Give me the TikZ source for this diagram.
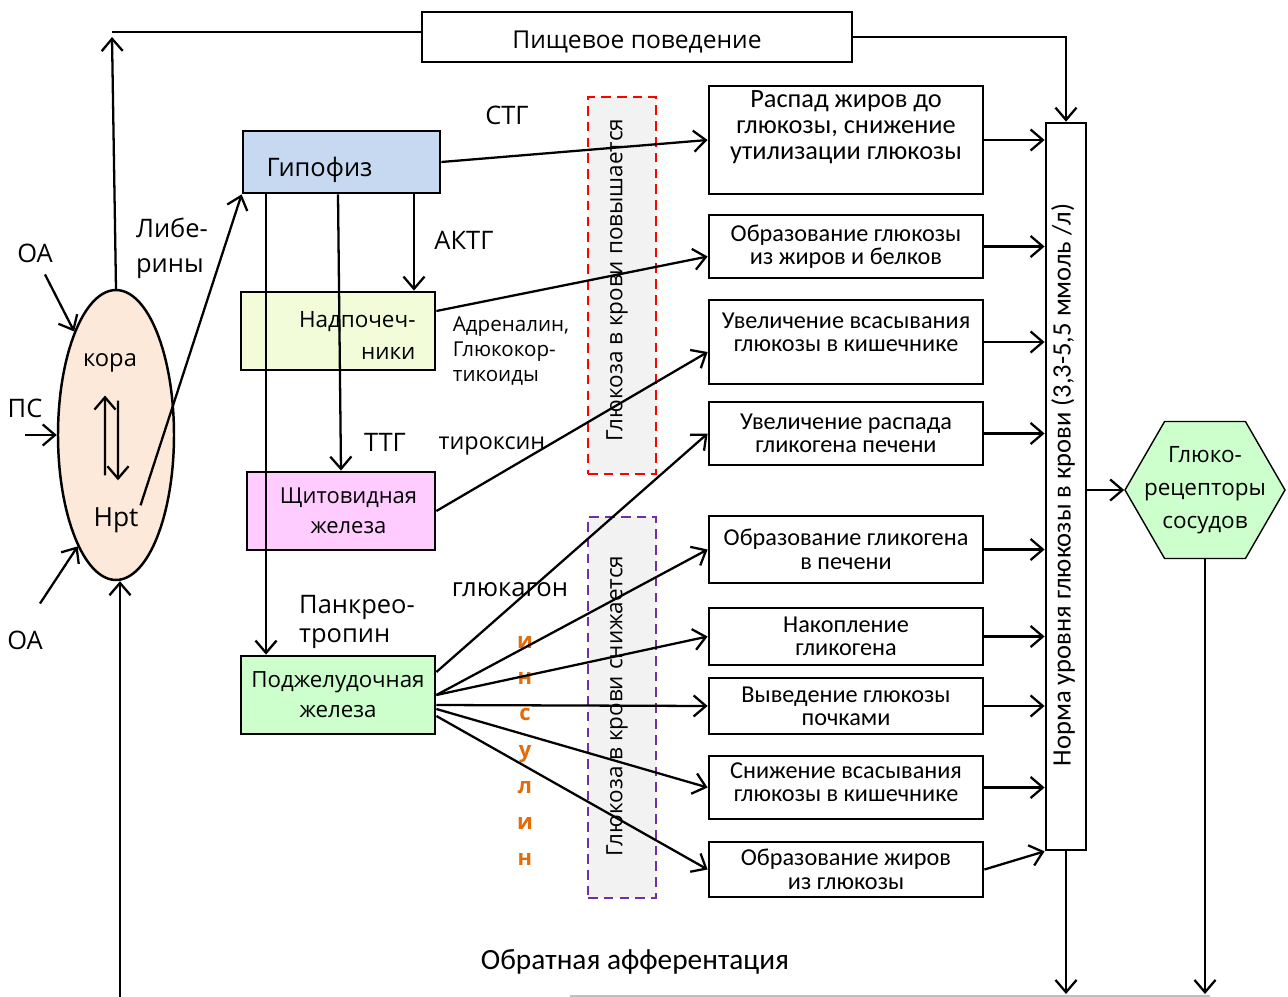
\documentclass[tikz,border=0pt]{standalone}
\usepackage{fontspec}
\setmainfont{Open Sans}
\newfontfamily\calfont{Carlito}
\usetikzlibrary{arrows.meta,shapes.geometric,shapes.symbols,calc}

\definecolor{korafill}{HTML}{FDE9D9}
\definecolor{gipfill}{HTML}{C6D9F1}
\definecolor{nadfill}{HTML}{F2FCD9}
\definecolor{shchfill}{HTML}{FFCCFF}
\definecolor{podfill}{HTML}{CCFFCC}
\definecolor{bandfill}{HTML}{F2F2F2}
\definecolor{bandpurple}{HTML}{7030A0}
\definecolor{insorange}{HTML}{E36C09}

\tikzset{
  box/.style={draw, line width=1.6pt, inner sep=2pt},
  rbox/.style={box, minimum width=5.48cm, align=center, font=\calfont\fontsize{13.8}{13.3}\selectfont},
  rtext/.style={align=center, inner sep=0pt, font=\calfont\fontsize{13.8}{13.3}\selectfont},
  band/.style={line width=1.4pt, dash pattern=on 5.5pt off 3.5pt, fill=bandfill, minimum width=1.36cm},
  arr/.style={line width=1.3pt, -{Straight Barb[length=7pt,width=12pt,line width=1.3pt]}},
  lbl/.style={font=\fontsize{14.5}{17}\selectfont, inner sep=1pt},
}

\begin{document}
\begin{tikzpicture}[x=0.02cm,y=-0.02cm]
	\useasboundingbox (0,0) rectangle (1288,997);

	% top
	\node (pish) [box, minimum width=8.6cm, minimum height=1cm, text height=0.6cm, text depth=0.12cm, font=\fontsize{14}{16}\selectfont] at (637,37) {Пищевое поведение};

	% cortex and hypothalamus
	\node (cortex) [ellipse, draw, line width=1.4pt, fill=korafill, minimum width=2.32cm, minimum height=5.8cm] at (116,435) {};
	\node (kora) [font=\fontsize{13.5}{15}\selectfont] at (110,363) {кора};
	\node (hpt) [lbl, font=\fontsize{15}{17}\selectfont] at (116,520) {Hpt};
	\node (oa1) [lbl] at (35,253) {ОА};
	\node (ps) [lbl] at (25,408) {ПС};
	\node (oa2) [lbl] at (25,640) {ОА};
	\node (lib) [lbl, align=left, font=\fontsize{14.5}{19.8}\selectfont] at (172,248) {Либе-\\рины};

	% glands
	\node (gip) [box, fill=gipfill, minimum width=3.94cm, minimum height=1.24cm, text width=3.0cm, text height=0.7cm, text depth=0.1cm, align=left, font=\fontsize{14.5}{17}\selectfont] at (341.5,162) {Гипофиз};
	\node (nad) [box, fill=nadfill, minimum width=3.88cm, minimum height=1.56cm, label={[name=nadt, yshift=-0.09cm, text width=3.1cm, align=right, inner sep=0pt, font=\fontsize{12.8}{18.5}\selectfont]center:{Надпочеч-\\ники}}] at (338,331) {};
	\node (shch) [box, fill=shchfill, minimum width=3.76cm, minimum height=1.56cm, align=center, font=\fontsize{12.5}{17}\selectfont] at (341,511) {\hspace*{0.3cm}Щитовидная\\\hspace*{0.3cm}железа};
	\node (pod) [box, fill=podfill, minimum width=3.88cm, minimum height=1.56cm, align=center, font=\fontsize{12.7}{17}\selectfont] at (338,695) {Поджелудочная\\железа};

	% hormones
	\node (stg) [lbl] at (507,115) {СТГ};
	\node (aktg) [lbl] at (464,240) {АКТГ};
	\node (ttg) [lbl] at (385,442) {ТТГ};
	\node (pankr) [lbl, align=left, font=\fontsize{14.5}{16.5}\selectfont] at (357,622) {Панкрео-\\тропин};
	\node (adr) [lbl, align=left, font=\fontsize{11.7}{14.2}\selectfont] at (511,351) {Адреналин,\\Глюкокор-\\тикоиды};
	\node (tir) [lbl, font=\fontsize{13.3}{15}\selectfont] at (492,446) {тироксин};
	\node (glk) [lbl, font=\fontsize{14.6}{16}\selectfont] at (510,590) {глюкагон};
	\node (ins) [font=\bfseries\fontsize{12.5}{20.6}\selectfont, text=insorange, align=center] at (525,751) {и\\н\\с\\у\\л\\и\\н};

	% bands
	\node (up) [band, draw=red, minimum height=7.54cm] at (622,285.5) {};
	\node (uptext) [rotate=90, font=\fontsize{12.8}{15}\selectfont] at (617,280) {Глюкоза в крови повышается};
	\node (down) [band, draw=bandpurple, minimum height=7.62cm] at (622,707.5) {};
	\node (downtext) [rotate=90, font=\fontsize{12.8}{15}\selectfont] at (617,706) {Глюкоза в крови снижается};

	% effects
	\node (r1) [rbox, minimum height=2.16cm, label={[name=r1t, rtext, font=\calfont\fontsize{15}{14.7}\selectfont, yshift=0.26cm]center:{Распад жиров до\\глюкозы, снижение\\утилизации глюкозы}}] at (846,140) {};
	\node (r2) [rbox, minimum height=1.26cm] at (846,246.5) {Образование глюкозы\\из жиров и белков};
	\node (r3) [rbox, minimum height=1.68cm, label={[name=r3t, rtext, yshift=0.2cm]center:{Увеличение всасывания\\глюкозы в кишечнике}}] at (846,342) {};
	\node (r4) [rbox, minimum height=1.26cm] at (846,433.5) {Увеличение распада\\гликогена печени};
	\node (r5) [rbox, minimum height=1.34cm] at (846,549.5) {Образование гликогена\\в печени};
	\node (r6) [rbox, minimum height=1.14cm] at (846,636.5) {Накопление\\гликогена};
	\node (r7) [rbox, minimum height=1.12cm] at (846,706) {Выведение глюкозы\\почками};
	\node (r8) [rbox, minimum height=1.26cm, label={[name=r8t, rtext, yshift=0.1cm]center:{Снижение всасывания\\глюкозы в кишечнике}}] at (846,787.5) {};
	\node (r9) [rbox, minimum height=1.10cm] at (846,869.5) {Образование жиров\\из глюкозы};

	% norm and receptors
	\node (norm) [box, minimum width=0.8cm, minimum height=14.54cm] at (1066,486.5) {};
	\node (normtext) [rotate=90, font=\calfont\fontsize{15.1}{16}\selectfont] at (1063,485) {Норма уровня глюкозы в крови (3,3-5,5 ммоль /л)};
	\node (hex) [signal, signal to=east and west, signal pointer angle=120, draw, line width=0.8pt, fill=podfill, minimum width=3.2cm, minimum height=2.74cm, inner sep=0pt] at (1205,490) {};
	\node (hextext) [align=center, font=\fontsize{12.8}{18.7}\selectfont] at (hex.center) {Глюко-\\рецепторы\\сосудов};
	\node (obr) [font=\calfont\fontsize{16.7}{18}\selectfont] at (635,962) {Обратная афферентация};

	\coordinate (tl) at (112,32);
	\coordinate (fbl) at (120,997);
	\coordinate (fbr) at (1066,994);

	% connectors on the left
	\draw[line width=1.3pt] (pish.west |- tl) -- (tl);
	\draw[arr] (cortex.north) -- ([yshift=-0.1cm]tl);
	\draw[arr] (pish.east) -| (norm.north);
	\draw[arr] ([xshift=0.2cm,yshift=-0.2cm]oa1.south) -- (cortex.112);
	\draw[arr] (ps.south |- cortex.west) -- (cortex.west);
	\draw[arr] ([xshift=0.3cm,yshift=0.5cm]oa2.north) -- (cortex.251);
	\draw[arr] (fbl) -- (fbl |- cortex.south);
	\draw[arr, shorten <=0.6cm, shorten >=0.34cm] ([xshift=-0.22cm]hpt.north) -- ([xshift=-0.1cm]kora.south);
	\draw[arr, shorten <=0.44cm, shorten >=0.5cm] ([xshift=0.16cm]kora.south) -- ([xshift=0.04cm]hpt.north);
	\draw[arr] (hpt.north east) -- (gip.south west);

	% hypophysis to glands
	\draw[arr] ([xshift=-1.51cm]gip.south) -- ([xshift=-1.51cm]gip.south |- pod.north);
	\draw[arr] ([xshift=-0.07cm]gip.south) -- (shch.north);
	\draw[arr] ([xshift=1.45cm]gip.south) -- ([xshift=1.45cm]gip.south |- nad.north);

	% hormones to effects
	\draw[arr] (gip.east) -- (r1.west);
	\draw[arr] ([yshift=0.4cm]nad.east) -- ([yshift=-0.2cm]r2.west);
	\draw[arr] (shch.east) -- ([yshift=-0.2cm]r3.west);
	\draw[arr] ([yshift=0.46cm]pod.east) -- (r4.west);
	\draw[arr] (pod.east) -- (r5.west);
	\draw[arr] (pod.east) -- (r6.west);
	\draw[arr] ([yshift=-0.2cm]pod.east) -- (r7.west);
	\draw[arr] ([yshift=-0.28cm]pod.east) -- (r8.west);
	\draw[arr] ([yshift=-0.42cm]pod.east) -- (r9.west);

	% effects to norm
	\foreach \r in {r1,r2,r3,r4,r5,r6,r7,r8}
		\draw[arr] (\r.east) -- (\r.east -| norm.west);
	\draw[arr] (r9.east) -- (norm.south west);

	% norm to receptors and back
	\draw[arr] (norm.east |- hex.west) -- (hex.west);
	\draw[arr] (norm.south) -- (norm.south |- fbr);
	\draw[arr] (hex.south) -- (hex.south |- fbr);
	\draw[gray!50, line width=0.8pt] (570,996) -- (1210,996);
\end{tikzpicture}
\end{document}
